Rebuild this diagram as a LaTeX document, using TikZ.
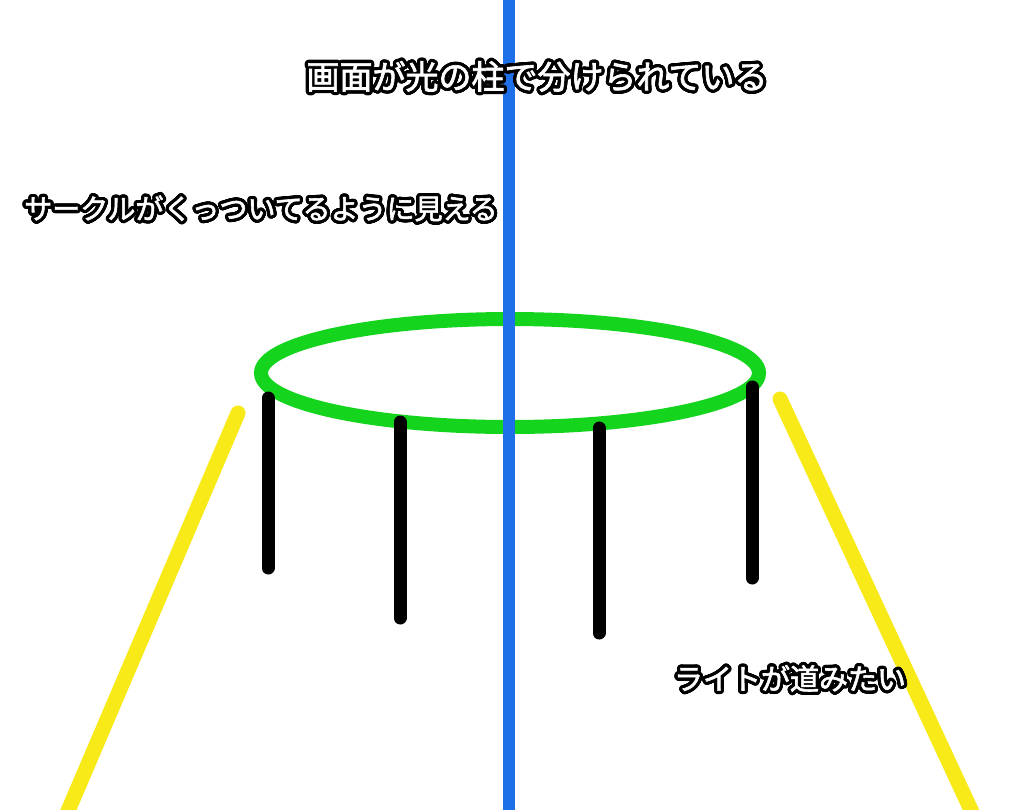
\documentclass[tikz,border=0pt]{standalone}
\usepackage{fontspec}
\usepackage{contour}
\newfontfamily\cjk[FakeBold=2]{Noto Sans CJK JP}
\contourlength{3.2pt}
\contournumber{32}
\definecolor{pillarblue}{RGB}{30,112,232}
\definecolor{ringgreen}{RGB}{20,212,30}
\definecolor{lightyellow}{RGB}{248,234,24}
\tikzset{
  beam/.style={line width=15pt, draw=lightyellow, line cap=round},
  leg/.style={line width=13pt, draw=black, line cap=round},
  caption/.style={text=white, inner sep=0pt}
}
\begin{document}
\begin{tikzpicture}[x=1pt,y=-1pt]
  \useasboundingbox[fill=white] (0,0) rectangle (1024,809);
  % light beams
  \coordinate (bl_top) at (238,413);
  \coordinate (bl_bot) at (62,825);
  \coordinate (br_top) at (780,399);
  \coordinate (br_bot) at (978,825);
  \draw[beam] (bl_top) -- (bl_bot);
  \draw[beam] (br_top) -- (br_bot);
  % the circle
  \coordinate (ring) at (510,373);
  \draw[ringgreen, line width=14pt] (ring) ellipse [x radius=249, y radius=54];
  % legs
  \foreach \x/\a/\b [count=\i] in {268/398/568, 400/422/618, 599/428/633, 752/387/578} {
    \coordinate (leg\i_top) at (\x,\a);
    \coordinate (leg\i_bot) at (\x,\b);
    \draw[leg] (leg\i_top) -- (leg\i_bot);
  }
  % pillar of light
  \coordinate (p_top) at (509,-5);
  \coordinate (p_bot) at (509,815);
  \draw[pillarblue, line width=12pt] (p_top) -- (p_bot);
  % captions
  \node[caption, font=\cjk\fontsize{33}{35}\selectfont] (cap_split) at (537,78)
    {\contour{black}{画面が光の柱で分けられている}};
  \node[caption, font=\cjk\fontsize{28}{30}\selectfont] (cap_circle) at (261,210)
    {\contour{black}{サークルがくっついてるように見える}};
  \node[caption, font=\cjk\fontsize{29}{31}\selectfont] (cap_light) at (790,680)
    {\contour{black}{ライトが道みたい}};
\end{tikzpicture}
\end{document}
